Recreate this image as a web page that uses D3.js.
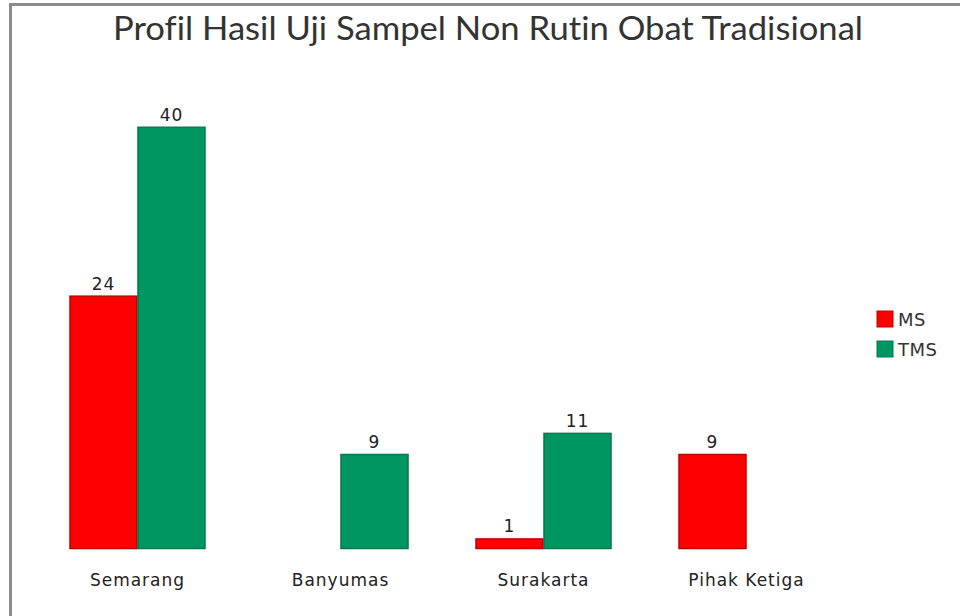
<!DOCTYPE html>
<html>
<head>
<meta charset="utf-8">
<script src="https://cdn.jsdelivr.net/npm/d3@7"></script>
<style>
  body { margin: 0; background: #fff; }
  svg { display: block; }
</style>
</head>
<body>
<svg id="chart" width="960" height="616"></svg>
<script>
// data
const categories = ["Semarang", "Banyumas", "Surakarta", "Pihak Ketiga"];
const seriesNames = ["MS", "TMS"];
const msValues = [24, 0, 1, 9];
const tmsValues = [40, 9, 11, 0];
const seriesColors = ["#ff0000", "#009661"];
const strokeColors = ["#c00000", "#007a4e"];

const width = 960, height = 616;
const svg = d3.select("#chart");

// frame (only top & left edges are visible in the source)
svg.append("path")
    .attr("d", `M10.5,${height} L10.5,4.5 L${width},4.5`)
    .attr("fill", "none")
    .attr("stroke", "#8c8c8c")
    .attr("stroke-width", 3);

// title
svg.append("text")
    .attr("x", 488)
    .attr("y", 40)
    .attr("text-anchor", "middle")
    .attr("font-family", "Lato, 'Open Sans', sans-serif")
    .attr("font-size", 33)
    .attr("fill", "#333")
    .style("font-variant-ligatures", "none")
    .attr("textLength", 750)
    .attr("lengthAdjust", "spacingAndGlyphs")
    .text("Profil Hasil Uji Sampel Non Rutin Obat Tradisional");

// scales
const x0 = d3.scaleBand()
    .domain(categories)
    .range([36, 848])
    .paddingInner(0.33)
    .paddingOuter(0.165);

const x1 = d3.scaleBand()
    .domain(seriesNames)
    .range([0, x0.bandwidth()]);

const y = d3.scaleLinear()
    .domain([0, 45])
    .range([549, 74]);

const rows = categories.map((c, i) => ({
    category: c,
    values: [
        { key: "MS", value: msValues[i], si: 0 },
        { key: "TMS", value: tmsValues[i], si: 1 }
    ]
}));

const groups = svg.append("g")
    .selectAll("g")
    .data(rows)
    .join("g")
    .attr("transform", d => `translate(${x0(d.category)},0)`);

const bars = groups.selectAll("g.bar")
    .data(d => d.values.filter(v => v.value > 0))
    .join("g")
    .attr("class", "bar");

bars.append("rect")
    .attr("x", d => x1(d.key) + 0.5)
    .attr("y", d => y(d.value) + 0.5)
    .attr("width", x1.bandwidth() - 1)
    .attr("height", d => y(0) - y(d.value) - 1)
    .attr("fill", d => seriesColors[d.si])
    .attr("stroke", d => strokeColors[d.si])
    .attr("stroke-width", 1.5);

// data labels
bars.append("text")
    .attr("x", d => x1(d.key) + x1.bandwidth() / 2)
    .attr("y", d => y(d.value) - 6)
    .attr("text-anchor", "middle")
    .attr("font-family", "'DejaVu Sans', sans-serif")
    .attr("font-size", 17)
    .attr("letter-spacing", 1)
    .attr("fill", "#222")
    .text(d => d.value);

// category axis labels
svg.append("g")
    .selectAll("text")
    .data(categories)
    .join("text")
    .attr("x", d => x0(d) + x0.bandwidth() / 2)
    .attr("y", 586)
    .attr("text-anchor", "middle")
    .attr("font-family", "'DejaVu Sans', sans-serif")
    .attr("font-size", 17)
    .attr("letter-spacing", 1)
    .attr("fill", "#222")
    .text(d => d);

// legend
const legend = svg.append("g")
    .selectAll("g")
    .data(seriesNames)
    .join("g")
    .attr("transform", (d, i) => `translate(877,${311 + i * 30})`);

legend.append("rect")
    .attr("width", 16)
    .attr("height", 16)
    .attr("fill", (d, i) => seriesColors[i])
    .attr("stroke", (d, i) => strokeColors[i])
    .attr("stroke-width", 1);

legend.append("text")
    .attr("x", 21)
    .attr("y", 15)
    .attr("font-family", "'DejaVu Sans', sans-serif")
    .attr("font-size", 18)
    .attr("letter-spacing", 0.5)
    .attr("fill", "#333")
    .text(d => d);
</script>
</body>
</html>
